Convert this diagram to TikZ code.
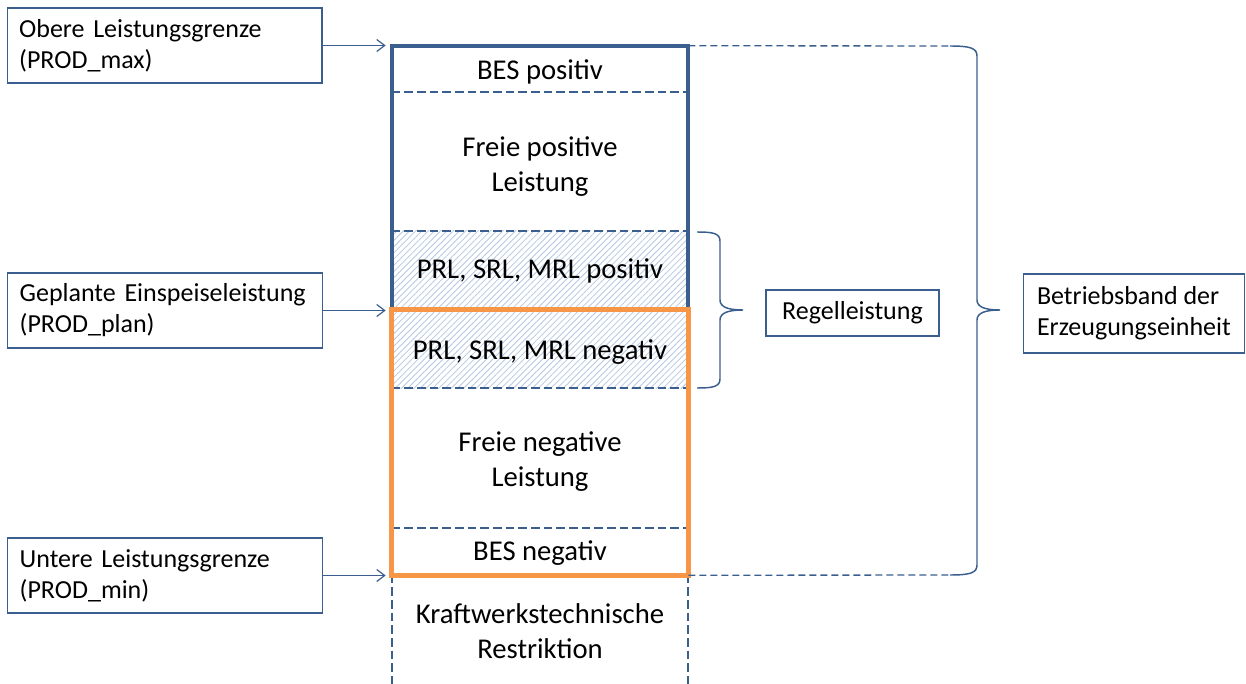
\documentclass[tikz,border=0pt]{standalone}
\usepackage{fontspec}
\setmainfont{Carlito}
\usetikzlibrary{arrows.meta,patterns.meta}
\definecolor{bl}{HTML}{3A5E8E}
\definecolor{orng}{HTML}{F79646}
\definecolor{hatchc}{HTML}{B4C8E2}
\newcommand\lfnt{\fontsize{19.5pt}{23.25pt}\selectfont}
\newcommand\cfnt{\fontsize{21.5pt}{26.25pt}\selectfont}
\begin{document}
\begin{tikzpicture}[x=0.75pt,y=-0.75pt,
  lbox/.style={draw=bl, line width=1pt, text width=218pt, align=left, inner xsep=9pt, inner ysep=0pt, minimum height=56.25pt, font=\lfnt},
  rbox/.style={draw=bl, line width=1pt, align=left, inner xsep=10pt, inner ysep=0pt, font=\lfnt},
  band/.style={minimum width=222pt, inner sep=0pt},
  ctext/.style={inner sep=0pt, align=center, font=\cfnt},
  hatched/.style={pattern={Lines[angle=45,distance=3.3pt,line width=0.6pt]}, pattern color=hatchc},
  arr/.style={draw=bl, line width=0.9pt, -{Straight Barb[length=6pt,width=9pt]}, shorten >=4.5pt},
  dashline/.style={draw=bl, line width=1.5pt, dash pattern=on 6.5pt off 3pt},
  thindash/.style={draw=bl, line width=1pt, dash pattern=on 5.25pt off 3pt},
  bracel/.style={draw=bl, line width=1.1pt}
]
\useasboundingbox (0,0) rectangle (1246,684);

% left boxes
\node[lbox] (obere) at (164.5,45.5) {Obere Leistungsgrenze\\(PROD\_max)};
\node[lbox] (plan) at (165,310.5) {Geplante Einspeiseleistung\\(PROD\_plan)};
\node[lbox] (umin) at (165,575.5) {Untere Leistungsgrenze\\(PROD\_min)};

% column bands
\node[band, minimum height=34.5pt] (bespos) at (540,69) {};
\node[band, minimum height=104.25pt] (frpos) at (540,161.5) {};
\node[band, hatched, minimum height=59.25pt] (prlpos) at (540,270.5) {};
\node[band, hatched, minimum height=58.5pt] (prlneg) at (540,349) {};
\node[band, minimum height=105pt] (frneg) at (540,458) {};
\node[band, minimum height=35.25pt] (besneg) at (540,551.5) {};
\node[band, minimum height=81.75pt] (kraft) at (540,629.5) {};

% band texts
\node[ctext] (tbespos) at ([yshift=-2.25pt]bespos.center) {BES positiv};
\node[ctext] (tfrpos) at ([yshift=-3.5pt]frpos.center) {Freie positive\\Leistung};
\node[ctext] (tprlpos) at (prlpos.center) {PRL, SRL, MRL positiv};
\node[ctext] (tprlneg) at ([yshift=-2pt]prlneg.center) {PRL, SRL, MRL negativ};
\node[ctext] (tfrneg) at ([yshift=-3pt]frneg.center) {Freie negative\\Leistung};
\node[ctext] (tbesneg) at ([yshift=-1pt]besneg.center) {BES negativ};
\node[ctext] (tkraft) at ([yshift=-1.5pt]kraft.center) {Kraftwerkstechnische\\Restriktion};

% dashed separators
\draw[dashline] (bespos.south west) -- (bespos.south east);
\draw[dashline] (frpos.south west) -- (frpos.south east);
\draw[dashline] (prlneg.south west) -- (prlneg.south east);
\draw[dashline] (frneg.south west) -- (frneg.south east);
\draw[dashline] (kraft.north west) -- (kraft.south west);
\draw[dashline] (kraft.north east) -- (kraft.south east);

% outlines
\draw[bl, line width=3pt] (bespos.north west) rectangle (prlpos.south east);
\draw[orng, line width=3.75pt] (prlneg.north west) rectangle (besneg.south east);

% arrows
\draw[arr] (obere.east) -- (obere.east -| bespos.west);
\draw[arr] (plan.east) -- (plan.east -| prlneg.west);
\draw[arr] (umin.east) -- (umin.east -| kraft.west);

% right boxes
\node[rbox, minimum width=129.75pt, minimum height=34.5pt, align=center] (regel) at (852.5,313) {Regelleistung};
\node[rbox, anchor=west, minimum height=59.25pt] (betrieb) at (1023,313.5) {Betriebsband der\\Erzeugungseinheit};

% small brace
\coordinate (sbt) at (697,232);
\coordinate (sbb) at (697,388);
\draw[bracel] (sbt) .. controls (712,232) and (720,233) .. (720,241) -- (720,300)
  .. controls (720,307) and (728,310) .. (743,310)
  .. controls (728,310) and (720,313) .. (720,320) -- (720,379)
  .. controls (720,387) and (712,388) .. (sbb);

% big brace
\coordinate (bbt) at (950,46);
\coordinate (bbb) at (950,575);
\draw[thindash] (bespos.north east) -- (bbt);
\draw[thindash] (besneg.south east) -- (bbb);
\draw[bracel] (bbt) .. controls (970,46) and (977,48) .. (977,56) -- (977,300)
  .. controls (977,307) and (985,310) .. (1000,310)
  .. controls (985,310) and (977,313) .. (977,320) -- (977,565)
  .. controls (977,573) and (970,575) .. (bbb);
\end{tikzpicture}
\end{document}
